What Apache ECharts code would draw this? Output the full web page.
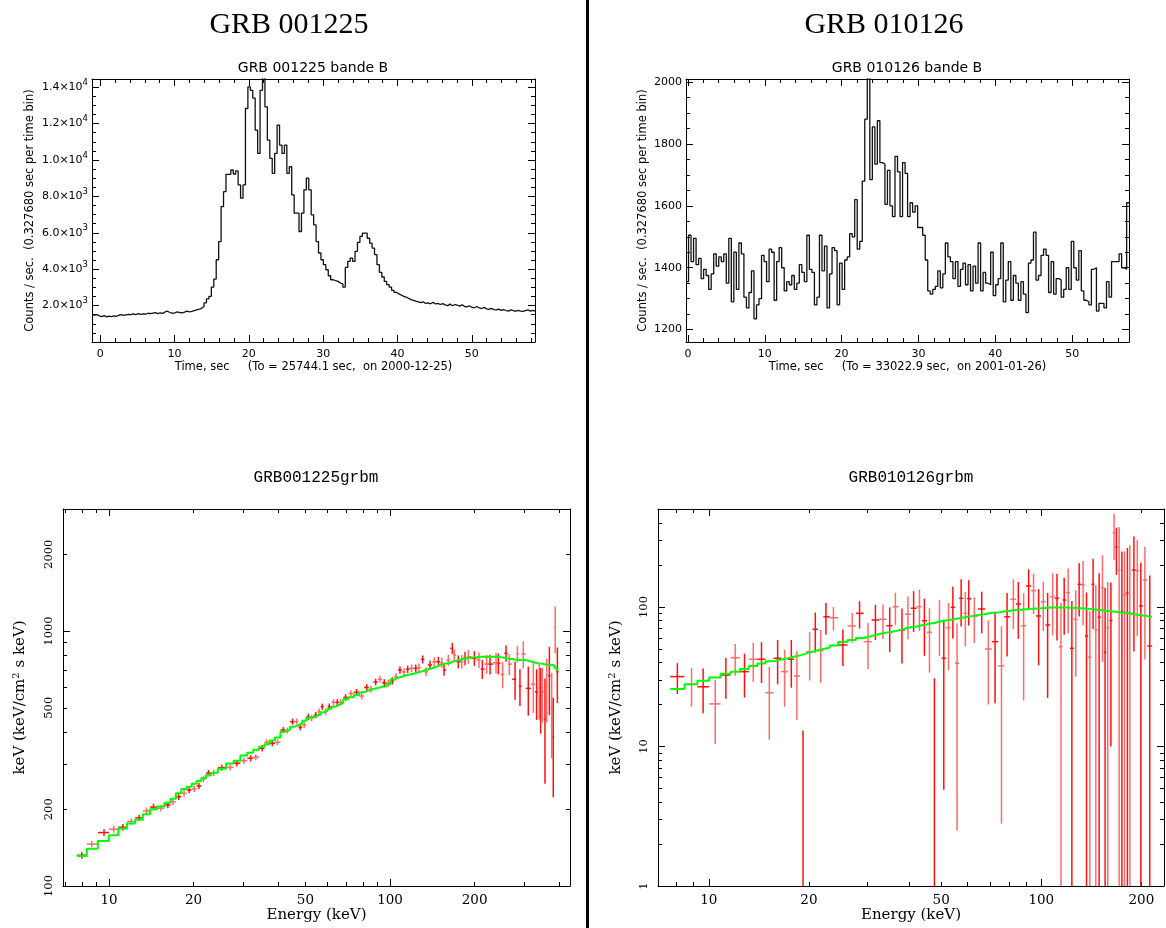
<!DOCTYPE html>
<html>
<head>
<meta charset="utf-8">
<title>GRB 001225 / GRB 010126</title>
<script src="https://cdn.jsdelivr.net/npm/echarts@6/dist/echarts.min.js"></script>
<style>
  html, body { margin: 0; padding: 0; background: #fff; }
  #main { width: 1166px; height: 928px; }
</style>
</head>
<body>
<div id="main"></div>
<script>
// light curves: counts per 0.327680 s bin
var BIN = 0.32768;

var lcStartA = -1.1;
var lcCountsA = [
  1480, 1500, 1440, 1400, 1450, 1380, 1420, 1400, 1440, 1410,
  1470, 1500, 1460, 1490, 1520, 1500, 1540, 1510, 1560, 1520,
  1550, 1530, 1580, 1560, 1590, 1610, 1560, 1600, 1570, 1650,
  1690, 1620, 1580, 1600, 1650, 1620, 1600, 1640, 1700, 1650,
  1680, 1720, 1760, 1800, 1850, 1950,
  2150, 2365, 2510, 3020, 3460, 4520, 5520, 7440, 8260, 9210,
  9210, 9450, 9230, 9400, 8630, 7900, 8630, 12830, 14015, 13830,
  13400, 11640, 10360, 13830, 14800, 12920, 11090, 10090, 9270, 10360,
  11920, 10820, 10360, 10820, 9270, 9630, 8080, 7080, 7080, 6070,
  7080, 8360, 9000, 8360, 6990, 6440, 5520, 4890, 4520, 4250,
  3970, 3640, 3420, 3370, 3330, 3240, 3200, 3020, 4100, 4430,
  4610, 4430, 4980, 5470, 5800, 5980, 5980, 5700, 5430, 5160,
  4800, 4250, 3830, 3570, 3330, 3150, 3020, 2840, 2730, 2640,
  2580, 2510, 2470, 2400, 2330, 2290, 2240,
  2200, 2170, 2210, 2120, 2150, 2100, 2180, 2090, 2120, 2060,
  2110, 2040, 2000, 2080, 1990, 2060, 2020, 1970, 2040, 1950,
  1930, 1990, 1900, 1880, 1950, 1870, 1840, 1900, 1820, 1790,
  1850, 1780, 1760, 1810, 1740, 1780, 1730, 1700, 1760, 1720,
  1690, 1740, 1700, 1680, 1730, 1760, 1700, 1740, 1700
];

var lcStartB = -0.25;
var lcCountsB = [
  1355, 1505, 1420, 1495, 1410, 1430, 1365, 1395, 1375, 1330,
  1380, 1445, 1405, 1435, 1420, 1445, 1350, 1495, 1290, 1450,
  1330, 1480, 1445, 1305, 1270, 1320, 1390, 1235, 1280, 1300,
  1440, 1420, 1355, 1460, 1450, 1295, 1420, 1465, 1400, 1325,
  1355, 1345, 1375, 1330, 1350, 1410, 1385, 1355, 1505, 1395,
  1385, 1280, 1305, 1505, 1390, 1470, 1270, 1380, 1465, 1455,
  1280, 1415, 1330, 1425, 1435, 1510, 1500, 1620, 1460, 1485,
  1680, 1880, 2030, 1685, 1855, 1735, 1875, 1740, 1735, 1605,
  1715, 1600, 1565, 1760, 1710, 1565, 1740, 1705, 1565, 1610,
  1580, 1600, 1530, 1530, 1505, 1425, 1325, 1315, 1330, 1340,
  1390, 1335, 1380, 1480, 1435, 1420, 1365, 1420, 1340, 1395,
  1415, 1345, 1410, 1325, 1405, 1350, 1480, 1325, 1385, 1350,
  1345, 1450, 1310, 1345, 1365, 1480, 1290, 1360, 1420, 1295,
  1375, 1350, 1295, 1355, 1315, 1255, 1415, 1425, 1515, 1360,
  1375, 1440, 1460, 1440, 1320, 1420, 1315, 1365, 1360, 1305,
  1330, 1400, 1330, 1485, 1400, 1360, 1455, 1325, 1295, 1290,
  1280, 1395, 1400, 1260, 1285, 1285, 1270, 1355, 1305, 1420,
  1420, 1420, 1445, 1400, 1395, 1610
];

// tick labels
var lcTicksX = [0, 10, 20, 30, 40, 50];
var lcTicksYA = [2000, 4000, 6000, 8000, 10000, 12000, 14000];
var lcTicksYB = [1200, 1400, 1600, 1800, 2000];
var specTicksX = [10, 20, 50, 100, 200];
var specTicksYA = [100, 200, 500, 1000, 2000];
var specTicksYB = [1, 10, 100];

// GRB001225 spectrum (keV, keV^2 /cm2 s keV)
var specAE = [
  8.0, 8.68, 9.6, 10.4, 11.2, 12.0, 12.8, 13.6, 14.4, 15.3,
  16.2, 16.9, 17.7, 18.5, 19.3, 20.1, 20.9, 21.7, 22.6, 23.6,
  25.2, 27.0, 28.5, 30.2, 31.9, 33.3, 35.1, 36.4, 38.1, 39.8,
  41.7, 43.1, 45.0, 46.6, 47.9, 49.5, 51.2, 52.6, 54.4, 55.9,
  57.4, 59.0, 60.8, 62.9, 64.9, 66.8, 69.5, 72.6, 76.1, 79.3,
  82.6, 85.5, 88.9, 92.1, 95.4, 98.6, 101.9, 105, 108.5, 112.2,
  115.6, 119.4, 123.5, 126.8, 130.7, 134.3, 138.7, 143.8, 148.6, 152.8,
  155.7, 161.3, 166.6, 169.4, 175, 180, 184.9, 190, 199.6, 207.3,
  213, 220.7, 227, 238.4, 242.9, 251.6, 258.7, 265.8, 278.6, 284,
  290, 298, 310.5, 323.6, 332.5, 339.8, 343.5, 348.3, 356, 361,
  369, 376, 381, 387, 394
];
var specAF = [
  132, 146, 162, 167, 170, 179, 185, 197, 204, 202,
  208, 214, 224, 231, 238, 240, 247, 263, 277, 278,
  291, 292, 303, 310, 317, 320, 347, 366, 363, 366,
  409, 407, 441, 442, 419, 428, 461, 455, 468, 483,
  505, 483, 505, 525, 525, 525, 549, 569, 575, 556,
  601, 592, 631, 647, 627, 624, 638, 662, 703, 692,
  708, 714, 714, 718, 774, 692, 736, 758, 758, 751,
  703, 769, 855, 805, 758, 758, 782, 793, 782, 769,
  709, 742, 742, 751, 746, 676, 818, 742, 647, 813,
  608, 812, 596, 618, 578, 599, 556, 578, 452, 608,
  668, 501, 385, 1034, 692
];
var specAErr = [
  4, 4, 5, 5, 5, 5, 5, 6, 6, 6,
  6, 6, 7, 7, 7, 7, 7, 8, 8, 8,
  8, 8, 9, 9, 9, 9, 10, 10, 10, 10,
  11, 11, 12, 12, 12, 12, 13, 13, 13, 14,
  14, 14, 15, 15, 15, 15, 16, 17, 17, 17,
  18, 18, 19, 20, 20, 20, 21, 22, 23, 23,
  24, 25, 25, 26, 28, 28, 30, 32, 33, 34,
  36, 38, 42, 42, 44, 46, 48, 50, 52, 55,
  60, 62, 65, 70, 70, 80, 60, 70, 110, 60,
  100, 100, 130, 140, 130, 150, 160, 140, 200, 170,
  200, 184, 162, 215, 170
];
var specAModel = [
  131, 140, 150, 158, 168, 176, 182, 191, 200, 205,
  212, 220, 231, 240, 245, 252, 258, 265, 272, 278,
  288, 302, 310, 325, 333, 342, 352, 360, 372, 382,
  403, 410, 421, 428, 434, 445, 457, 460, 466, 470,
  480, 486, 495, 505, 513, 522, 540, 550, 561, 575,
  585, 592, 598, 604, 606, 620, 646, 655, 662, 671,
  675, 680, 688, 692, 700, 708, 715, 724, 735, 742,
  746, 751, 760, 765, 772, 778, 782, 785, 790, 793,
  793, 793, 793, 793, 790, 785, 780, 776, 772, 770,
  769, 769, 760, 752, 748, 747, 745, 742, 740, 738,
  736, 736, 735, 720, 703
];

// GRB010126 spectrum
var specBE = [
  8.04, 8.87, 9.61, 10.45, 11.25, 12.0, 12.8, 13.6, 14.4, 15.2,
  16.1, 16.9, 17.7, 18.4, 19.2, 20.1, 20.9, 21.7, 22.5, 23.7,
  25.3, 27.0, 28.4, 30.1, 31.7, 33.4, 35.0, 36.4, 38.1, 39.7,
  41.3, 43.0, 44.5, 46.1, 47.7, 49.4, 50.9, 52.6, 54.2, 55.8,
  57.4, 59.1, 60.5, 62.9, 66.2, 69.3, 72.6, 75.9, 78.9, 82.4,
  85.3, 88.5, 91.6, 94.8, 98.2, 101.4, 104.5, 108.2, 111.5, 114.6,
  117.2, 120.5, 123.6, 127.0, 130.0, 133.6, 136.8, 140.0, 143.2, 145.9,
  149.3, 152.8, 155.6, 158.5, 162.0, 165.6, 168.3, 171.5, 174.8, 178.0,
  181.6, 184.7, 190.0, 194.5, 199.3, 205.0, 212.0
];
var specBF = [
  31.7, 27.9, 26.8, 20.2, 32.5, 43.3, 34.4, 42.2, 42.2, 24.3,
  42.9, 34.4, 42.2, 32.0, 0.5, 47.8, 69.2, 48.6, 85.1, 83.8,
  53.4, 73.1, 90.1, 56.4, 80.7, 81.6, 73.4, 100.5, 68.4, 88.7,
  98.0, 100.5, 79.7, 65.9, 0.5, 78.5, 42.9, 71.1, 99.4, 39.5,
  115.4, 90.1, 114.6, 86.2, 96.8, 50.0, 56.4, 37.8, 85.1, 113.5,
  105.1, 73.4, 141.5, 131.0, 86.2, 109.2, 74.3, 118.6, 115.4, 51.9,
  112.2, 126.7, 50.6, 81.6, 145.5, 143.9, 62.0, 43.6, 145.5, 68.4,
  84.4, 137.4, 47.3, 71.1, 80.0, 341, 270, 184, 92.5, 121.9,
  125.4, 90.1, 184, 182, 101.7, 156, 52.5
];
var specBErr = [
  7.9, 8.6, 9.5, 9.8, 10.5, 11.1, 11.9, 13.2, 13.7, 13.1,
  15.0, 15.1, 15.8, 16.5, 12.5, 18.1, 22, 20, 21.5, 16,
  15.7, 17.5, 20, 20.5, 22.8, 22.8, 26, 26, 29, 30,
  32, 33, 35, 32, 30.3, 34, 38, 36, 40, 37,
  43, 38, 41, 31, 32, 30, 36, 35, 41, 44,
  46, 52, 45, 42, 48, 42, 52, 56, 58, 55.5,
  49, 62, 60, 50, 60, 70, 65, 50, 76, 75,
  90, 97, 90, 80, 70, 125, 100, 190, 157, 128,
  139, 187, 136, 120, 106, 114, 116
];
var specBModel = [
  25.8, 27.9, 29.6, 31.2, 33.2, 34.4, 36.0, 37.7, 39.3, 40.9,
  42.0, 43.0, 44.0, 45.0, 46.5, 47.8, 49.0, 50.0, 51.0, 53.0,
  56.0, 58.0, 60.0, 62.0, 64.0, 65.5, 66.5, 68.0, 70.0, 71.5,
  72.5, 74.0, 75.2, 76.5, 77.5, 79.4, 80.0, 81.0, 82.0, 83.0,
  84.0, 85.0, 86.0, 87.6, 89.0, 90.5, 91.5, 93.0, 94.0, 95.0,
  95.5, 96.5, 97.0, 97.5, 98.0, 98.5, 99.0, 99.0, 99.0, 99.0,
  99.0, 98.8, 98.6, 98.2, 98.0, 97.5, 97.0, 96.8, 96.0, 95.5,
  95.0, 94.5, 94.0, 93.6, 93.0, 92.5, 92.0, 91.5, 91.0, 90.5,
  90.1, 89.5, 88.5, 87.6, 87.0, 86.0, 85.1
];

var SANS = 'DejaVu Sans';
var SERIF = 'DejaVu Serif';

function lg(v) { return Math.log10(v); }

function stepTicks(min, max, step, skip) {
  var out = [];
  for (var v = Math.ceil(min / step) * step; v <= max; v += step) {
    var r = Math.round(v * 1000) / 1000;
    if (skip.indexOf(r) < 0) out.push(r);
  }
  return out;
}
function logMinor(decades) {
  var out = [];
  decades.forEach(function (d) {
    for (var m = 2; m <= 9; m++) out.push(lg(m * d));
  });
  return out;
}

var xAxes = [], yAxes = [];

function axis(g, pos, ext, o) {
  return {
    type: 'value', gridIndex: g, position: pos, min: ext[0], max: ext[1],
    axisLine: { show: !!o.line, onZero: false, lineStyle: { color: '#000', width: 1 } },
    axisTick: { show: true, inside: true, length: o.len, customValues: o.ticks,
                lineStyle: { color: '#000', width: 1 } },
    axisLabel: o.labels ? Object.assign({ show: true, customValues: o.labels, color: '#000' }, o.labelStyle)
                        : { show: false },
    splitLine: { show: false },
    name: o.name || '', nameLocation: 'middle', nameGap: o.nameGap || 0,
    nameTextStyle: o.nameStyle || {}
  };
}

// frame of one panel: major + minor ticks on all four sides
function panel(g, p) {
  var ix = xAxes.length, iy = yAxes.length;
  xAxes.push(axis(g, 'bottom', p.x, { line: true, len: p.maj, ticks: p.xMaj, labels: p.xLab,
    labelStyle: p.xLabStyle, name: p.xName, nameGap: p.xNameGap, nameStyle: p.xNameStyle }));
  xAxes.push(axis(g, 'bottom', p.x, { len: p.min, ticks: p.xMin }));
  xAxes.push(axis(g, 'top', p.x, { line: true, len: p.maj, ticks: p.xMaj }));
  xAxes.push(axis(g, 'top', p.x, { len: p.min, ticks: p.xMin }));
  yAxes.push(axis(g, 'left', p.y, { line: true, len: p.maj, ticks: p.yMaj, labels: p.yLab,
    labelStyle: p.yLabStyle, name: p.yName, nameGap: p.yNameGap, nameStyle: p.yNameStyle }));
  yAxes.push(axis(g, 'left', p.y, { len: p.min, ticks: p.yMin }));
  yAxes.push(axis(g, 'right', p.y, { line: true, len: p.maj, ticks: p.yMaj }));
  yAxes.push(axis(g, 'right', p.y, { len: p.min, ticks: p.yMin }));
  return { x: ix, y: iy };
}

function sciLabel(v) {
  var e = Math.floor(lg(v) + 1e-9);
  return '{m|' + (v / Math.pow(10, e)).toFixed(1) + '×10}{e|' + e + '}';
}

var lcLabX = { fontFamily: SANS, fontSize: 11, margin: 7 };
var lcName = { fontFamily: SANS, fontSize: 11.5, color: '#000' };
var lcYName = 'Counts / sec.  (0.327680 sec per time bin)';

var axA = panel(0, {
  x: [lcStartA, 58.5], y: [0, 14450], maj: 7, min: 4,
  xMaj: lcTicksX, xMin: stepTicks(lcStartA, 58.5, 2, lcTicksX), xLab: lcTicksX, xLabStyle: lcLabX,
  xName: 'Time, sec     (To = 25744.1 sec,  on 2000-12-25)', xNameGap: 19, xNameStyle: lcName,
  yMaj: lcTicksYA, yMin: stepTicks(0, 14450, 500, lcTicksYA), yLab: lcTicksYA,
  yLabStyle: { margin: 4, formatter: sciLabel, rich: {
    m: { fontFamily: SANS, fontSize: 11, color: '#000' },
    e: { fontFamily: SANS, fontSize: 8.5, color: '#000', padding: [0, 0, 9, 0] } } },
  yName: lcYName, yNameGap: 56, yNameStyle: lcName
});

var axB = panel(1, {
  x: [lcStartB, 57.4], y: [1160, 2010], maj: 7, min: 4,
  xMaj: lcTicksX, xMin: stepTicks(lcStartB, 57.4, 2, lcTicksX), xLab: lcTicksX, xLabStyle: lcLabX,
  xName: 'Time, sec     (To = 33022.9 sec,  on 2001-01-26)', xNameGap: 19, xNameStyle: lcName,
  yMaj: lcTicksYB, yMin: stepTicks(1160, 2010, 50, lcTicksYB), yLab: lcTicksYB,
  yLabStyle: { margin: 4, fontFamily: SANS, fontSize: 11, formatter: function (v) { return String(v); } },
  yName: lcYName, yNameGap: 37, yNameStyle: lcName
});

var spName = { fontFamily: SERIF, fontSize: 15, color: '#000' };
var spYName = { fontFamily: SERIF, fontSize: 15, color: '#000',
  rich: { s: { fontFamily: SERIF, fontSize: 10, color: '#000', padding: [0, 0, 9, 0] } } };
function fmtLog(v) { return String(Math.round(Math.pow(10, v))); }
var spLabX = { fontFamily: SERIF, fontSize: 13.5, margin: 7, formatter: fmtLog };
var spLabY = { fontFamily: SERIF, fontSize: 11.5, margin: 8, rotate: 90, formatter: fmtLog };

var extCy = [2, lg(3010)];
var axC = panel(2, {
  x: [lg(6.86), lg(437)], y: extCy, maj: 7, min: 4,
  xMaj: [1, 2], xMin: logMinor([1, 10, 100]), xLab: specTicksX.map(lg), xLabStyle: spLabX,
  xName: 'Energy (keV)', xNameGap: 22, xNameStyle: spName,
  yMaj: [2, 3], yMin: logMinor([100, 1000]), yLab: specTicksYA.map(lg), yLabStyle: spLabY,
  yName: 'keV (keV/cm{s|2} s keV)', yNameGap: 33, yNameStyle: spYName
});

var extDy = [0, lg(504)];
var axD = panel(3, {
  x: [lg(7.03), lg(234)], y: extDy, maj: 7, min: 4,
  xMaj: [1, 2], xMin: logMinor([1, 10, 100]), xLab: specTicksX.map(lg), xLabStyle: spLabX,
  xName: 'Energy (keV)', xNameGap: 22, xNameStyle: spName,
  yMaj: [0, 1, 2], yMin: logMinor([1, 10, 100]), yLab: specTicksYB.map(lg), yLabStyle: spLabY,
  yName: 'keV (keV/cm{s|2} s keV)', yNameGap: 32, yNameStyle: spYName
});

function histData(start, counts) {
  var pts = counts.map(function (c, k) { return [start + k * BIN, c]; });
  pts.push([start + counts.length * BIN, counts[counts.length - 1]]);
  return pts;
}

// channel edges halfway (in log E) between neighbouring bin centres
function logEdges(E) {
  var c = E.map(lg), ed = [c[0] - (c[1] - c[0]) / 2];
  for (var i = 1; i < c.length; i++) ed.push((c[i - 1] + c[i]) / 2);
  ed.push(c[c.length - 1] + (c[c.length - 1] - c[c.length - 2]) / 2);
  return ed;
}

function crossData(E, F, Err, ext) {
  var ed = logEdges(E);
  return E.map(function (e, i) {
    var lo = F[i] - Err[i];
    var top = Math.min(lg(F[i] + Err[i]), ext[1]);
    var bot = lo > 0 ? Math.max(lg(lo), ext[0]) : ext[0];
    return [lg(e), ed[i], ed[i + 1], lg(F[i]), top, bot];
  });
}

function modelData(E, M) {
  var ed = logEdges(E), out = [];
  M.forEach(function (m, i) { out.push([ed[i], lg(m)], [ed[i + 1], lg(m)]); });
  return out;
}

function lcSeries(ax, start, counts) {
  return {
    type: 'line', xAxisIndex: ax.x, yAxisIndex: ax.y, data: histData(start, counts),
    step: 'end', symbol: 'none', clip: true, silent: true,
    lineStyle: { color: '#111', width: 1.3 }
  };
}

function crossSeries(ax, data, ext) {
  return {
    type: 'custom', xAxisIndex: ax.x, yAxisIndex: ax.y, data: data,
    encode: { x: 0, y: 3 }, silent: true, clip: true,
    renderItem: function (params, api) {
      var col = params.dataIndex % 2 ? '#ff6a6a' : '#ff1010';
      var st = { stroke: col, lineWidth: 1.5 };
      var a = api.coord([api.value(0), api.value(5)]);
      var b = api.coord([api.value(0), api.value(4)]);
      var kids = [{ type: 'line', shape: { x1: a[0], y1: a[1], x2: b[0], y2: b[1] }, style: st }];
      var y = api.value(3);
      if (y >= ext[0] && y <= ext[1]) {
        var l = api.coord([api.value(1), y]), r = api.coord([api.value(2), y]);
        kids.push({ type: 'line', shape: { x1: l[0], y1: l[1], x2: r[0], y2: r[1] }, style: st });
      }
      return { type: 'group', children: kids };
    }
  };
}

function modelSeries(ax, E, M) {
  return {
    type: 'line', xAxisIndex: ax.x, yAxisIndex: ax.y, data: modelData(E, M),
    symbol: 'none', clip: true, silent: true, z: 5,
    lineStyle: { color: '#00ff00', width: 2 }
  };
}

function txt(x, y, text, font) {
  return { type: 'text', x: x, y: y, silent: true,
    style: { text: text, font: font, fill: '#000', textAlign: 'center', align: 'center',
             textVerticalAlign: 'middle', verticalAlign: 'middle' } };
}

var chart = echarts.init(document.getElementById('main'));
chart.setOption({
  animation: false,
  backgroundColor: '#fff',
  grid: [
    { left: 92, top: 79, width: 443, height: 263, outerBoundsMode: 'none', containLabel: false },
    { left: 686, top: 79, width: 443, height: 263, outerBoundsMode: 'none', containLabel: false },
    { left: 63, top: 509, width: 507, height: 377, outerBoundsMode: 'none', containLabel: false },
    { left: 658, top: 509, width: 506, height: 377, outerBoundsMode: 'none', containLabel: false }
  ],
  xAxis: xAxes,
  yAxis: yAxes,
  series: [
    lcSeries(axA, lcStartA, lcCountsA),
    lcSeries(axB, lcStartB, lcCountsB),
    crossSeries(axC, crossData(specAE, specAF, specAErr, extCy), extCy),
    modelSeries(axC, specAE, specAModel),
    crossSeries(axD, crossData(specBE, specBF, specBErr, extDy), extDy),
    modelSeries(axD, specBE, specBModel)
  ],
  graphic: [
    { type: 'rect', shape: { x: 586, y: 0, width: 3, height: 928 }, style: { fill: '#000' }, silent: true },
    txt(289, 25, 'GRB 001225', '30px "Liberation Serif"'),
    txt(884, 25, 'GRB 010126', '30px "Liberation Serif"'),
    txt(313, 68, 'GRB 001225 bande B', '14px "DejaVu Sans"'),
    txt(907, 68, 'GRB 010126 bande B', '14px "DejaVu Sans"'),
    txt(316, 478, 'GRB001225grbm', '16px "Liberation Mono"'),
    txt(911, 478, 'GRB010126grbm', '16px "Liberation Mono"')
  ]
});
</script>
</body>
</html>
